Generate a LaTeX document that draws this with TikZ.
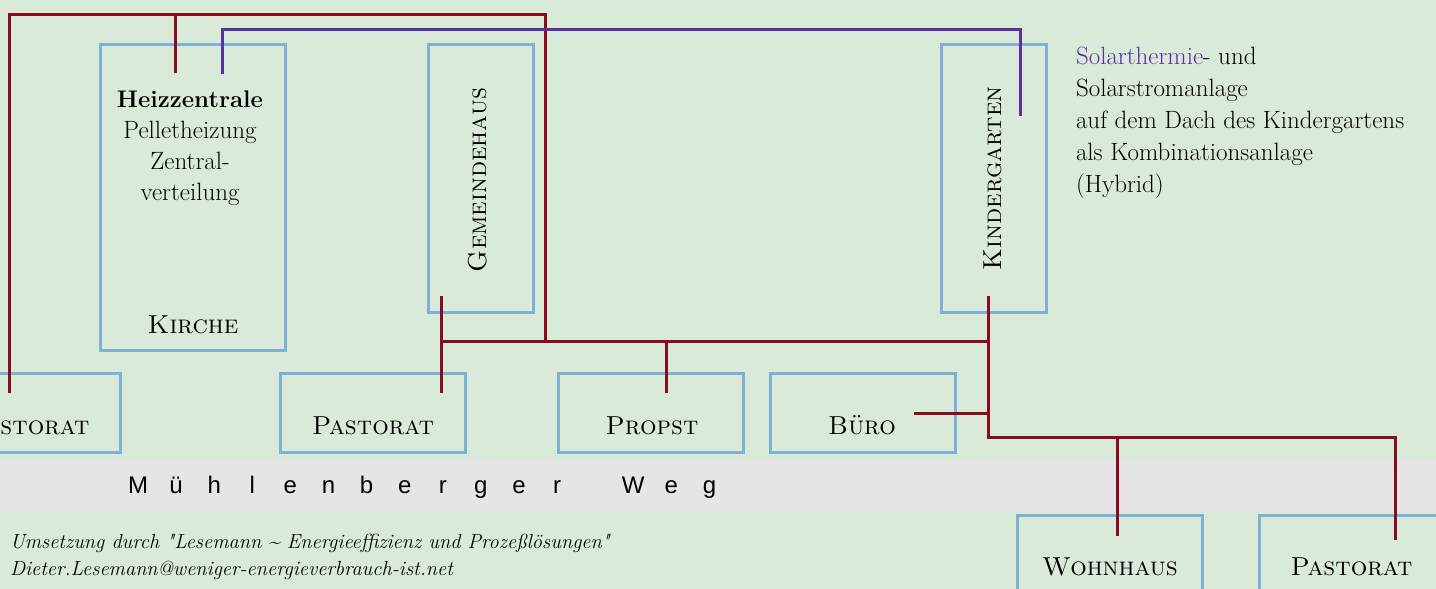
\documentclass[tikz,border=0pt]{standalone}
\usepackage{fontspec}
\newfontfamily\streetfont{Liberation Sans}
\newfontfamily\creditfont{Latin Modern Roman}[Ligatures=TeXOff]
\definecolor{lawn}{HTML}{D9EBD8}
\definecolor{road}{HTML}{E5E5E5}
\definecolor{heatred}{HTML}{8B0A1F}
\definecolor{solarviolet}{HTML}{5A30A0}
\definecolor{wallblue}{HTML}{7DB1D6}
\begin{document}
\begin{tikzpicture}[x=1pt,y=-1pt,
  building/.style={draw=wallblue,line width=3pt,inner sep=0pt,outer sep=0pt},
  widehouse/.style={building,minimum width=185pt,minimum height=79pt},
  heatline/.style={draw=heatred,line width=3pt},
  solarline/.style={draw=solarviolet,line width=3pt},
  txt/.style={inner sep=0pt,outer sep=0pt,anchor=base},
  body/.style={txt,font=\fontsize{25}{32}\selectfont},
  housename/.style={txt,font=\fontsize{26}{30}\selectfont\scshape},
  roadletter/.style={txt,font=\streetfont\fontsize{24}{28}\selectfont},
  credit/.style={txt,anchor=base west,font=\creditfont\itshape\fontsize{20.4}{27}\selectfont},
]
\useasboundingbox (0,0) rectangle (1436,589);
\clip (0,0) rectangle (1436,589);

% ground and street
\fill[lawn] (0,0) rectangle (1436,589);
\fill[road] (0,459) rectangle (1436,512);

% buildings
\node[building,minimum width=185pt,minimum height=306pt] (kirche) at (192.5,197) {};
\node[building,minimum width=105pt,minimum height=268pt] (gemeinde) at (480.5,178) {};
\node[building,minimum width=105pt,minimum height=268pt] (kinder) at (993.5,178) {};
\node[widehouse] (pastoratW) at (27.5,412.5) {};
\node[widehouse] (pastoratM) at (372.5,412.5) {};
\node[widehouse] (propst) at (651,412.5) {};
\node[widehouse] (buero) at (862.5,412.5) {};
\node[widehouse] (wohnhaus) at (1109.5,554.5) {};
\node[widehouse] (pastoratO) at (1351.5,554.5) {};

% building names
\node[housename] (kirche-name) at (193,333) {Kirche};
\node[housename,rotate=90] (gemeinde-name) at (486,180) {Gemeindehaus};
\node[housename,rotate=90] (kinder-name) at (1001,178.5) {Kindergarten};
\node[housename] (pastoratW-name) at (28.5,434) {Pastorat};
\node[housename] (pastoratM-name) at (373,434) {Pastorat};
\node[housename] (propst-name) at (652,434) {Propst};
\node[housename] (buero-name) at (862,434) {Büro};
\node[housename] (wohnhaus-name) at (1110,575) {Wohnhaus};
\node[housename] (pastoratO-name) at (1351.5,575) {Pastorat};

% heating plant
\node[body,font=\fontsize{24}{32}\selectfont\bfseries] (heiz1) at (190,107) {Heizzentrale};
\node[body] (heiz2) at (190,138) {Pelletheizung};
\node[body] (heiz3) at (190,169) {Zentral-};
\node[body] (heiz4) at (190,200) {verteilung};

% solar note
\node[body,anchor=base west] (sol1) at (1076,64) {\textcolor{solarviolet}{Solarthermie}- und};
\node[body,anchor=base west] (sol2) at (1076,96) {Solarstromanlage};
\node[body,anchor=base west] (sol3) at (1076,128) {auf dem Dach des Kindergartens};
\node[body,anchor=base west] (sol4) at (1076,160) {als Kombinationsanlage};
\node[body,anchor=base west] (sol5) at (1076,192) {(Hybrid)};

% street name
\foreach \k/\ch in {0/M,1/ü,2/h,3/l,4/e,5/n,6/b,7/e,8/r,9/g,10/e,11/r,13/W,14/e,15/g}
  \node[roadletter] (road-\k) at (138+38.1*\k,493) {\ch};

% credits
\node[credit] (credit1) at (10,548) {Umsetzung durch "Lesemann \textasciitilde{} Energieeffizienz und Prozeßlösungen"};
\node[credit] (credit2) at (10,575) {Dieter.Lesemann@weniger-energieverbrauch-ist.net};

% heating network ends
\coordinate (kirche-heat) at (175,73);
\coordinate (pastoratW-in) at (9,393);
\coordinate (ringNW) at (9,14);
\coordinate (ringNE) at (545,14);
\coordinate (hub) at (545,341);
\coordinate (gemeinde-in) at (441,296);
\coordinate (pastoratM-in) at (441,393);
\coordinate (propst-in) at (666,393);
\coordinate (kinder-in) at (988,296);
\coordinate (eastbus) at (988,437);
\coordinate (buero-in) at (914,413);
\coordinate (wohnhaus-in) at (1117,536);
\coordinate (pastoratO-in) at (1395,540);

% heating network
\draw[heatline] (pastoratW-in) -- (ringNW) -- (ringNE) -- (hub);
\draw[heatline] (kirche-heat) -- (kirche-heat |- ringNW);
\draw[heatline] (gemeinde-in) -- (pastoratM-in);
\draw[heatline] (gemeinde-in |- hub) -- (kinder-in |- hub);
\draw[heatline] (propst-in |- hub) -- (propst-in);
\draw[heatline] (kinder-in) -- (eastbus) -- (pastoratO-in |- eastbus) -- (pastoratO-in);
\draw[heatline] (wohnhaus-in |- eastbus) -- (wohnhaus-in);
\draw[heatline] (buero-in) -- (buero-in -| kinder-in);

% solar thermal line
\coordinate (kirche-sun) at (222,74);
\coordinate (kinder-sun) at (1020,116);
\draw[solarline] (kirche-sun) -- ++(0,-45) -| (kinder-sun);
\end{tikzpicture}
\end{document}
